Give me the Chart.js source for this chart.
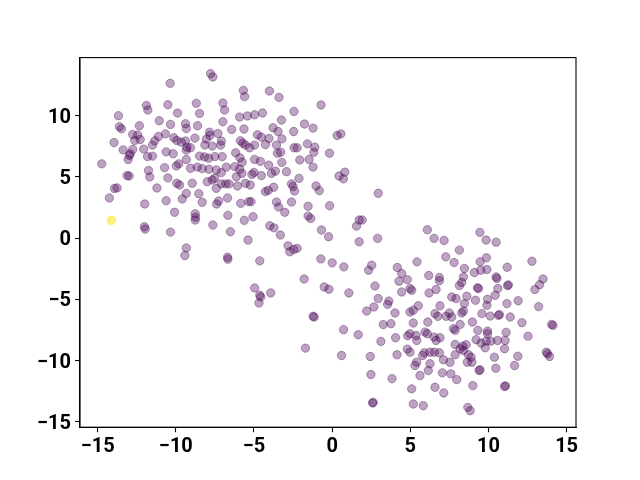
<!DOCTYPE html>
<html lang="en">
<head>
<meta charset="UTF-8">
<title>Scatter</title>
<script src="https://cdn.jsdelivr.net/npm/chart.js"></script>
<style>
    body { margin: 0; background: #fff; }
    #grafico { display: block; }
</style>
</head>
<body>
<canvas id="grafico" width="640" height="480"></canvas>
<script>
// upper-left group
const clusterA = [
    [-7.78,13.44],[-7.63,13.17],[-10.36,12.65],[-5.68,12.07],[-5.60,11.56],[-11.88,10.84],[-11.79,10.47],[-10.51,10.90],[-8.69,11.01],[-6.99,11.04],
    [-6.88,10.47],[-9.89,10.22],[-8.48,10.19],[-13.67,10.00],[-5.92,9.89],[-5.42,9.98],[-11.06,9.59],[-9.38,9.34],[-9.33,8.96],[-10.34,9.29],
    [-6.99,9.51],[-13.61,9.10],[-13.48,8.93],[-12.33,9.18],[-8.61,9.18],[-6.43,8.88],[-5.64,8.91],[-7.84,8.66],[-7.82,8.39],[-7.31,8.55],
    [-12.76,8.47],[-12.44,8.42],[-10.66,8.52],[-11.11,8.30],[-10.13,8.20],[-8.78,8.17],[-13.95,7.81],[-12.63,7.98],[-12.28,8.06],[-11.35,7.95],
    [-11.49,7.60],[-9.94,7.98],[-9.65,7.84],[-8.05,8.09],[-8.14,7.60],[-7.09,7.93],[-7.13,7.60],[-7.67,7.52],[-5.87,7.95],[-5.71,7.76],
    [-5.55,7.60],[-9.38,7.93],[-9.29,7.43],[-13.37,7.21],[-12.76,7.24],[-12.92,6.89],[-12.05,7.27],[-10.62,7.05],[-10.17,6.89],[-9.06,7.38],
    [-9.33,7.19],[-8.48,6.70],[-12.97,6.75],[-11.81,6.66],[-11.49,6.70],[-8.16,6.64],[-7.90,6.53],[-7.50,6.66],[-7.03,6.66],[-6.17,6.97],
    [-5.90,6.56],[-9.33,6.42],[-13.05,6.42],
    [-14.74,6.07],[-11.75,5.52],[-11.67,5.00],[-13.12,5.11],[-12.99,5.08],[-10.72,5.76],[-9.97,5.90],[-9.81,6.07],[-9.06,5.71],[-8.63,5.80],
    [-8.31,5.68],[-7.88,5.63],[-7.41,5.57],[-7.09,5.35],[-6.77,5.80],[-6.24,5.84],[-5.92,5.63],[-5.77,5.30],[-6.13,5.02],[-5.76,6.20],
    [-10.51,4.92],[-9.94,4.48],[-9.76,4.34],[-8.95,4.48],[-11.21,4.10],[-7.99,4.61],[-7.67,4.75],[-7.52,4.89],[-7.41,4.07],[-7.09,4.43],
    [-6.81,4.43],[-6.60,4.43],[-6.06,4.26],[-5.55,4.48],[-13.93,4.06],[-13.76,4.10],[-14.25,3.28],[-9.33,3.65],[-8.53,3.63],[-11.99,2.79],
    [-10.62,3.06],[-9.59,3.20],[-8.31,2.93],[-7.39,2.79],[-7.26,3.03],[-6.69,3.28],[-5.85,2.84],[-5.34,2.98],
    [-12.01,0.93],[-11.96,0.74],[-10.08,2.11],[-10.34,0.49],[-8.76,1.99],[-8.74,1.70],[-8.76,1.48],[-9.33,-0.80],[-9.42,-1.42],[-6.67,-1.72],
    [-6.69,-1.56],[-7.63,1.07],[-6.67,1.86],[-6.51,0.52],[-5.62,1.45],[-5.38,-0.16]
];

// points in between
const clusterB = [
    [-4.01,12.02],[-3.40,11.50],[-0.71,10.88],[-2.44,10.35],[-4.96,10.08],[-4.46,10.22],[-3.24,9.65],[-1.77,9.32],[-1.22,8.99],[-3.78,9.02],
    [-3.46,8.71],[-2.46,8.71],[0.32,8.39],[0.56,8.52],[-4.78,8.44],[-4.53,8.25],[-4.04,8.14],[-3.21,8.11],[-4.96,7.60],[-5.28,7.38],
    [-4.27,7.65],[-3.56,7.60],[-3.50,6.94],[-3.29,7.02],[-1.58,7.70],[-2.44,7.38],[-2.24,7.38],[-1.11,7.43],[-1.17,7.02],[-0.17,6.94],
    [-2.07,6.39],[-1.47,6.43],[-4.96,6.43],[-4.59,6.27],[-4.06,5.96],[-3.22,6.19],[-2.92,5.43],[-3.63,5.47],[-3.88,5.29],[-1.22,5.80],
    [-5.00,5.37],[-5.13,5.20],[-4.53,5.11],[0.81,5.39],[0.44,5.07],[0.72,4.84],[-2.12,4.88],[-5.24,4.34],[-4.27,3.80],[-4.09,3.91],
    [-3.74,4.16],[-2.60,4.43],[-2.50,4.22],[-2.41,3.85],[-1.03,4.26],[-0.82,3.88],[2.95,3.66],[-5.19,2.98],[-3.56,2.95],[-3.43,2.54],
    [-2.60,2.95],[-1.54,2.60],[-0.16,2.64],
    [-1.54,1.80],[-1.37,1.61],[-3.03,2.11],[-5.06,1.75],[-3.99,1.01],[-3.72,0.84],[-3.31,0.25],[-0.68,0.66],[-0.23,0.11],[1.56,0.98],
    [1.73,1.48],[1.92,1.48],[1.73,-0.30],[2.91,-0.02],[-2.82,-0.63],[-2.71,-1.12],[-2.46,-0.93],[-2.24,-0.84],[-4.63,-1.86],[-0.72,-1.70],
    [0.00,-2.02],[0.75,-2.35],[-1.79,-3.34],[-0.51,-3.99],[-0.21,-4.18],[1.07,-4.48],[-4.96,-4.07],[-4.63,-4.67],[-4.57,-4.81],[-3.93,-4.48],
    [-4.68,-5.30],[2.53,-2.21],[2.33,-2.62],[2.74,-3.91],[2.95,-4.94],
    [-1.22,-6.39],[-1.15,-6.45],[0.73,-7.48],[1.67,-7.89],[-1.71,-8.99],[0.60,-9.59],[2.21,-5.96],[2.67,-5.63],[3.55,-5.41],[3.63,-5.14],
    [4.02,-6.12],[3.27,-7.07],[3.76,-6.99],[3.12,-8.44],[4.06,-8.14],[4.83,-7.98],[2.44,-9.67],[4.15,-9.53],[4.81,-9.07],[2.48,-11.15],
    [3.83,-11.48],[5.09,-12.32],[2.59,-13.47],[2.62,-13.42],[5.19,-13.55]
];

// lower-right group
const clusterC = [
    [4.17,-2.40],[4.45,-2.89],[4.81,-3.39],[4.28,-3.52],[4.98,-4.12],[4.45,-4.40],[5.09,-4.26],
    [6.09,0.68],[6.52,-0.02],[7.16,-0.19],[9.45,0.47],[9.85,-0.16],[10.49,-0.33],[8.14,-0.98],[7.27,-1.53],[7.80,-1.99],[5.43,-1.94],
    [9.87,-1.61],[9.47,-1.94],[9.51,-2.62],[9.90,-2.57],[9.10,-2.81],[12.78,-1.89],[8.46,-2.48],[8.40,-3.17],[8.29,-3.63],[8.14,-3.88],
    [11.20,-2.38],[6.18,-3.06],[6.86,-3.22],[6.86,-3.48],[10.49,-3.17],[10.54,-3.30],[13.49,-3.34],[13.27,-3.81],[12.97,-4.20],[11.22,-3.88],
    [11.28,-3.82],[10.60,-4.12],[10.43,-4.67],[9.36,-4.12],[9.30,-4.06],[6.65,-4.20],[6.20,-4.48],[7.65,-4.81],[7.93,-4.94],[8.62,-4.75],
    [9.17,-5.08],[9.94,-5.00],[11.18,-5.35],[11.90,-5.12],[5.51,-5.53],[6.90,-5.53],[13.21,-5.60],
    [5.19,-5.90],[4.98,-6.04],[8.46,-5.35],[8.40,-5.96],[8.29,-6.12],[9.90,-5.49],[6.58,-6.17],[6.76,-6.39],[7.29,-6.39],[7.50,-6.12],
    [7.65,-6.45],[9.58,-6.17],[10.11,-6.37],[10.64,-6.31],[10.70,-6.25],[11.39,-6.45],[5.19,-6.94],[6.12,-6.86],[8.19,-7.05],[7.76,-7.40],
    [7.87,-7.54],[8.97,-6.86],[12.14,-6.91],[14.13,-7.13],[14.04,-7.05],[4.98,-7.81],[5.37,-7.95],[5.41,-8.36],[5.94,-7.68],[6.09,-7.81],
    [6.52,-8.09],[6.65,-8.36],[6.90,-8.14],[9.32,-7.54],[9.94,-7.60],[9.94,-7.81],[11.13,-7.70],[12.53,-8.01],[9.21,-8.30],[9.53,-8.58],
    [9.85,-8.42],[10.15,-8.42],[10.58,-8.36],[11.07,-8.36],[7.87,-8.69],[8.36,-8.83],[8.57,-8.71],[8.40,-9.18],[8.19,-9.04],[9.79,-8.96],
    [11.03,-9.04],[13.70,-9.32],[13.78,-9.45],[13.91,-9.67],[5.90,-9.37],[6.26,-9.32],[6.54,-9.32],[6.86,-9.37],[5.79,-9.59],[4.98,-9.32],
    [7.12,-9.94],[7.54,-10.14],[7.87,-9.53],[8.72,-9.53],[8.89,-9.73],[8.94,-10.14],[8.65,-10.14],[10.38,-9.73],[11.88,-9.65],[5.41,-10.14],
    [5.30,-10.41],[6.26,-10.27],[6.15,-10.82],[9.40,-10.82],[9.46,-10.76],[10.47,-10.63],[11.67,-10.41],[7.05,-11.01],[7.59,-11.09],[7.97,-11.56],
    [5.62,-11.23],[11.03,-12.13],[11.09,-12.07],[9.00,-12.05],[6.58,-12.19],[7.14,-12.65],[5.83,-13.69],[8.68,-13.83],[8.83,-14.10]
];

// the single yellow point
const outlier = [[-14.12, 1.45]];

const xTicks = [-15, -10, -5, 0, 5, 10, 15];
const yTicks = [-15, -10, -5, 0, 5, 10];

const roxo = 'rgba(68, 1, 84, 0.36)';
const amarelo = 'rgba(253, 231, 37, 0.62)';

function pontos(lista) {
    return lista.map(p => ({ x: p[0], y: p[1] }));
}

function rotulo(v) {
    return String(v).replace('-', '\u2212');
}

// black frame around the plot area (top and right too)
const moldura = {
    id: 'moldura',
    afterDraw(chart) {
        const { ctx, chartArea } = chart;
        ctx.save();
        ctx.strokeStyle = '#000';
        ctx.lineWidth = 1.1;
        ctx.strokeRect(chartArea.left, chartArea.top, chartArea.right - chartArea.left, chartArea.bottom - chartArea.top);
        ctx.restore();
    }
};

const fonte = { family: 'Roboto', size: 20, weight: 'bold' };

const ctx = document.getElementById('grafico');

new Chart(ctx, {
    type: 'scatter',
    data: {
        datasets: [
            {
                label: 'destaque',
                data: pontos(outlier),
                backgroundColor: amarelo,
                borderColor: amarelo
            },
            {
                label: 'pontos',
                data: pontos(clusterA.concat(clusterB, clusterC)),
                backgroundColor: roxo,
                borderColor: roxo
            }
        ]
    },
    options: {
        responsive: false,
        animation: false,
        events: [],
        layout: { padding: { left: 0, top: 57.6, right: 64, bottom: 0 } },
        elements: { point: { radius: 4.2, borderWidth: 1 } },
        plugins: {
            legend: { display: false },
            tooltip: { enabled: false }
        },
        scales: {
            x: {
                type: 'linear',
                min: -16.13,
                max: 15.6,
                afterBuildTicks: s => { s.ticks = xTicks.map(v => ({ value: v })); },
                afterFit: s => { s.height = 52.8; },
                grid: { drawOnChartArea: false, drawTicks: true, tickLength: 5, tickColor: '#000', tickWidth: 1.1 },
                border: { display: true, color: '#000', width: 1.1 },
                ticks: { color: '#000', font: fonte, padding: 3, maxRotation: 0, autoSkip: false, callback: rotulo }
            },
            y: {
                type: 'linear',
                min: -15.45,
                max: 14.75,
                afterBuildTicks: s => { s.ticks = yTicks.map(v => ({ value: v })); },
                afterFit: s => { s.width = 80; },
                grid: { drawOnChartArea: false, drawTicks: true, tickLength: 5, tickColor: '#000', tickWidth: 1.1 },
                border: { display: true, color: '#000', width: 1.1 },
                ticks: { color: '#000', font: fonte, padding: 4, labelOffset: 2, autoSkip: false, callback: rotulo }
            }
        }
    },
    plugins: [moldura]
});
</script>
</body>
</html>
